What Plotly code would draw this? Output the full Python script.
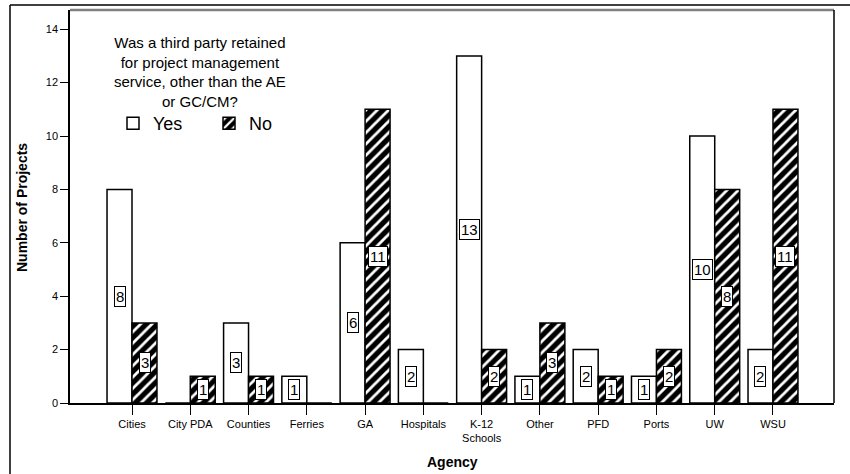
import plotly.graph_objects as go

# ── データ ─────────────────────────────────────────
agencies = ["Cities", "City PDA", "Counties", "Ferries", "GA", "Hospitals",
            "K-12<br>Schools", "Other", "PFD", "Ports", "UW", "WSU"]
yes_counts = [8, 0, 3, 1, 6, 2, 13, 1, 2, 1, 10, 2]
no_counts = [3, 1, 1, 0, 11, 0, 2, 3, 1, 2, 8, 11]
y_ticks = [0, 2, 4, 6, 8, 10, 12, 14]

FONT = "Arial, 'Liberation Sans', sans-serif"
question = ("Was a third party retained<br>for project management<br>"
            "service, other than the AE<br>or GC/CM?")

fig = go.Figure()
fig.add_trace(go.Bar(
    x=agencies, y=yes_counts, name="Yes",
    marker=dict(color="white", line=dict(color="black", width=1.5)),
))
fig.add_trace(go.Bar(
    x=agencies, y=no_counts, name="No",
    marker=dict(
        color="black",
        line=dict(color="black", width=1.5),
        pattern=dict(shape="/", fillmode="replace", bgcolor="black",
                     fgcolor="white", size=8, solidity=0.35),
    ),
))

# 値ラベル（白地・黒枠、棒の中央）
for series, shift in ((yes_counts, -12.5), (no_counts, 12.5)):
    for cat, val in zip(agencies, series):
        if val == 0:
            continue
        fig.add_annotation(
            x=cat, y=val / 2, xref="x", yref="y", text=str(val),
            showarrow=False, xshift=shift,
            font=dict(family=FONT, size=15, color="black"),
            bgcolor="white", bordercolor="black", borderwidth=1, borderpad=1,
        )

# ページ座標(px) → paper 座標
def px_x(px):
    return (px - 70) / 764


def px_y(py):
    return (403 - py) / 393


fig.add_annotation(
    x=px_x(200), y=px_y(72), xref="paper", yref="paper",
    text=question, showarrow=False, align="center",
    xanchor="center", yanchor="middle",
    font=dict(family=FONT, size=15, color="black"),
)
# 軸タイトル
fig.add_annotation(
    x=px_x(452), y=px_y(462), xref="paper", yref="paper",
    text="<b>Agency</b>", showarrow=False,
    xanchor="center", yanchor="middle",
    font=dict(family=FONT, size=14, color="black"),
)
fig.add_annotation(
    x=px_x(22), y=px_y(208), xref="paper", yref="paper",
    text="<b>Number of Projects</b>", showarrow=False, textangle=-90,
    xanchor="center", yanchor="middle",
    font=dict(family=FONT, size=14, color="black"),
)

# 枠線
frame = [
    dict(x0=0, x1=1, y0=1, y1=1, color="#808080", width=2.5),
    dict(x0=1, x1=1, y0=0, y1=1, color="black", width=1.5),
    dict(x0=px_x(10), x1=px_x(852), y0=px_y(5), y1=px_y(5), color="black", width=1.5),
    dict(x0=px_x(10), x1=px_x(10), y0=px_y(480), y1=px_y(5), color="black", width=1.5),
]
for f in frame:
    fig.add_shape(type="line", xref="paper", yref="paper",
                  x0=f["x0"], x1=f["x1"], y0=f["y0"], y1=f["y1"],
                  line=dict(color=f["color"], width=f["width"]))

fig.update_layout(
    width=850, height=474,
    barmode="group", bargap=0.143, bargroupgap=0,
    paper_bgcolor="white", plot_bgcolor="white",
    font=dict(family=FONT, color="black"),
    margin=dict(l=70, r=16, t=10, b=71, autoexpand=False),
    showlegend=True,
    legend=dict(
        orientation="h", x=px_x(113), y=px_y(105),
        xanchor="left", yanchor="top",
        font=dict(family=FONT, size=18, color="black"),
        entrywidth=51, entrywidthmode="pixels",
        bgcolor="rgba(0,0,0,0)", itemclick=False,
    ),
    xaxis=dict(
        type="category", range=[-1.064, 12.047], automargin=False,
        showline=True, linecolor="black", linewidth=1.5,
        ticks="outside", ticklen=10, tickcolor="black", tickwidth=1.2,
        tickfont=dict(size=11, color="black"), showgrid=False,
    ),
    yaxis=dict(
        range=[0, 14.72], tickvals=y_ticks, automargin=False,
        showline=True, linecolor="black", linewidth=1.5,
        ticks="outside", ticklen=8, tickcolor="black", tickwidth=1.2,
        tickfont=dict(size=11, color="black"), showgrid=False, zeroline=False,
    ),
)

# ページ余白を消して 850x474 にぴったり合わせる
fig.write_html("out.html", config={"displayModeBar": False},
               post_script="document.body.style.margin='0';")
